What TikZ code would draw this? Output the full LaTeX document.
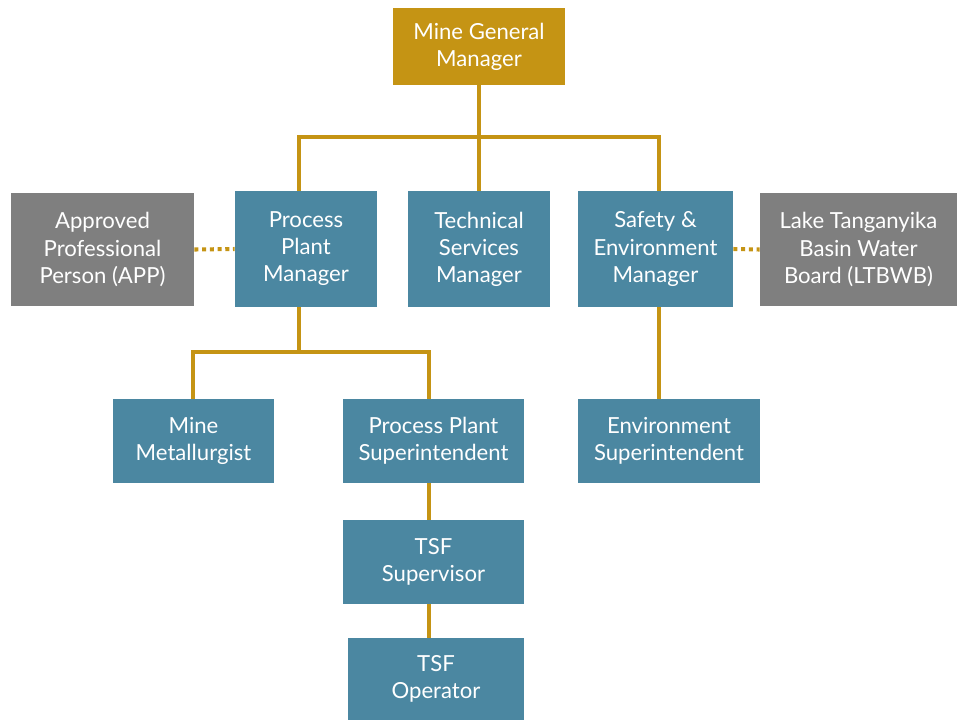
\documentclass[tikz,border=0pt]{standalone}
\usepackage{fontspec}
\setmainfont{Lato}
\definecolor{orggold}{RGB}{197,148,20}
\definecolor{orgteal}{RGB}{75,135,161}
\definecolor{orggray}{RGB}{127,127,127}
\tikzset{
  box/.style={fill=orgteal, text=white, align=center, inner sep=0pt,
    font=\fontsize{12.6}{15.4}\selectfont},
  topbox/.style={box, fill=orggold},
  extbox/.style={box, fill=orggray},
  link/.style={orggold, line width=2.3pt},
  dotlink/.style={orggold, line width=2.3pt, dash pattern=on 2.3pt off 2.1pt}
}
\begin{document}
\begin{tikzpicture}[x=0.02cm, y=-0.02cm]
\useasboundingbox (0,0) rectangle (957,721);
% Top
\node[topbox, minimum width=3.44cm, minimum height=1.54cm] (mgm) at (479,46.5) {Mine General\\Manager};
% Managers
\node[extbox, minimum width=3.66cm, minimum height=2.26cm] (app) at (102.5,249.5) {Approved\\Professional\\Person (APP)};
\node[box, minimum width=2.84cm, minimum height=2.32cm] (ppm) at (306,249) {Process\\Plant\\Manager};
\node[box, minimum width=2.84cm, minimum height=2.32cm] (tsm) at (479,249) {Technical\\Services\\Manager};
\node[box, minimum width=3.10cm, minimum height=2.32cm] (sem) at (655.5,249) {Safety \&\\Environment\\Manager};
\node[extbox, minimum width=3.94cm, minimum height=2.26cm] (ltb) at (858.5,249.5) {Lake Tanganyika\\Basin Water\\Board (LTBWB)};
% Superintendents
\node[box, minimum width=3.22cm, minimum height=1.68cm] (met) at (193.5,441) {Mine\\Metallurgist};
\node[box, minimum width=3.62cm, minimum height=1.68cm] (pps) at (433.5,441) {Process Plant\\Superintendent};
\node[box, minimum width=3.64cm, minimum height=1.68cm] (env) at (669,441) {Environment\\Superintendent};
% TSF
\node[box, minimum width=3.62cm, minimum height=1.68cm] (tsup) at (433.5,562) {TSF\\Supervisor};
\node[box, minimum width=3.52cm, minimum height=1.64cm] (top) at (436,679) {TSF\\Operator};
% Lines
\coordinate (j1) at (479,137);
\coordinate (j2) at (299,352);
\draw[link] (mgm.south) -- (j1) -- (tsm.north);
\draw[link] (ppm.north -| 299,0) |- (j1) -| (sem.north -| 659,0);
\draw[link] (ppm.south -| 299,0) -- (j2);
\draw[link] (met.north -| 193,0) |- (j2) -| (pps.north -| 429,0);
\draw[link] (sem.south -| 659,0) -- (env.north -| 659,0);
\draw[link] (pps.south -| 429,0) -- (tsup.north -| 429,0);
\draw[link] (tsup.south -| 429,0) -- (top.north -| 429,0);
% Dotted links
\draw[dotlink] (app.east) -- (ppm.west);
\draw[dotlink] (sem.east) -- (ltb.west);
\end{tikzpicture}
\end{document}
